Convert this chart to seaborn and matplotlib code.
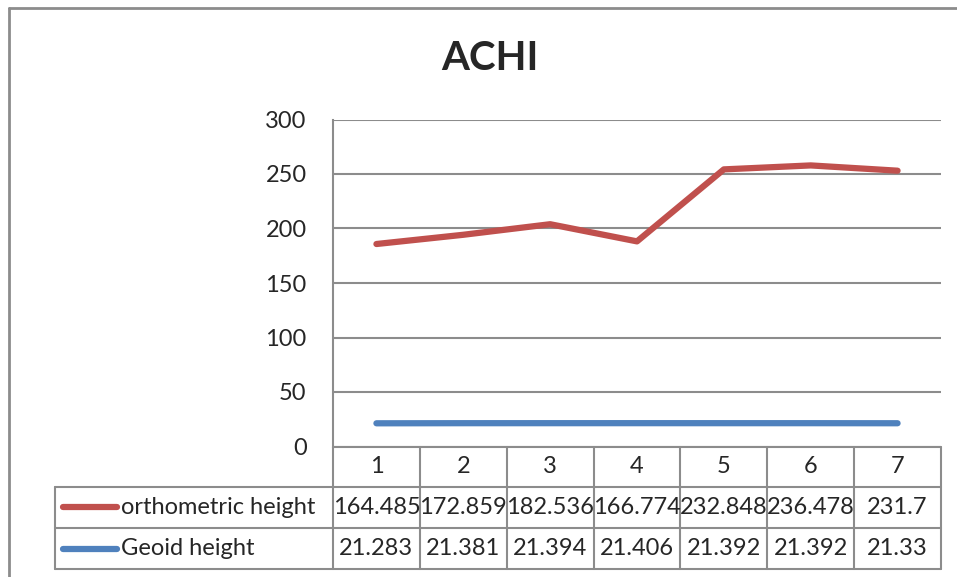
import numpy as np
import pandas as pd
import seaborn as sns
import matplotlib.pyplot as plt
from matplotlib.lines import Line2D

# Dati (grafico a linee impilate: la linea rossa = orto + geoide)
points = [1, 2, 3, 4, 5, 6, 7]
ortho = [164.485, 172.859, 182.536, 166.774, 232.848, 236.478, 231.7]
geoid = [21.283, 21.381, 21.394, 21.406, 21.392, 21.392, 21.33]
ortho_labels = ["164.485", "172.859", "182.536", "166.774", "232.848", "236.478", "231.7"]
geoid_labels = ["21.283", "21.381", "21.394", "21.406", "21.392", "21.392", "21.33"]
series_names = ["orthometric height", "Geoid height"]
y_ticks = [0, 50, 100, 150, 200, 250, 300]

red = "#C0504D"
blue = "#4F81BD"
grid_col = "#8C8C8C"
fs = 17

sns.set_style("white")
plt.rcParams['font.family'] = ['Lato', 'DejaVu Sans']

W, H = 957, 577
fig = plt.figure(figsize=(W / 100, H / 100), dpi=100)
fig.patch.set_facecolor('white')

# area del grafico in pixel
left, right, top, bottom = 333, 941, 119.5, 446.5
ax = fig.add_axes([left / W, 1 - bottom / H, (right - left) / W, (bottom - top) / H])

df = pd.DataFrame({
    'point': points * 2,
    'value': list(np.array(ortho) + np.array(geoid)) + geoid,
    'series': [series_names[0]] * 7 + [series_names[1]] * 7,
})
sns.lineplot(data=df, x='point', y='value', hue='series',
             palette=[red, blue], linewidth=4.5, legend=False, ax=ax,
             solid_capstyle='round')

ax.set_xlim(0.5, 7.5)
ax.set_ylim(0, 300)
ax.set_yticks(y_ticks)
ax.set_yticklabels([str(t) for t in y_ticks], fontsize=fs)
ax.set_xticks([])
ax.set_xlabel('')
ax.set_ylabel('')
ax.tick_params(axis='y', length=0, pad=19)
ax.yaxis.grid(True, color=grid_col, linewidth=1.5)
for s in ['top', 'right', 'bottom']:
    ax.spines[s].set_visible(False)
ax.spines['left'].set_color(grid_col)
ax.spines['left'].set_linewidth(1.5)

# tabella dati sotto il grafico
def fx(px):
    return px / W

def fy(py):
    return 1 - py / H

row_y = [446.5, 486.5, 528, 569]
col_w = (right - left) / 7
tbl_left = 55
lw = 1.5
fig.add_artist(Line2D([fx(left), fx(right)], [fy(row_y[0])] * 2, color=grid_col, lw=lw))
for yy in row_y[1:]:
    fig.add_artist(Line2D([fx(tbl_left), fx(right)], [fy(yy)] * 2, color=grid_col, lw=lw))
fig.add_artist(Line2D([fx(tbl_left)] * 2, [fy(row_y[1]), fy(row_y[3])], color=grid_col, lw=lw))
for i in range(8):
    xx = left + i * col_w
    fig.add_artist(Line2D([fx(xx)] * 2, [fy(row_y[0]), fy(row_y[3])], color=grid_col, lw=lw))

for i, p in enumerate(points):
    cx = left + (i + 0.5) * col_w
    fig.text(fx(cx), fy((row_y[0] + row_y[1]) / 2), str(p), ha='center', va='center', fontsize=fs)
    fig.text(fx(cx), fy((row_y[1] + row_y[2]) / 2), ortho_labels[i], ha='center', va='center', fontsize=fs)
    fig.text(fx(cx), fy((row_y[2] + row_y[3]) / 2), geoid_labels[i], ha='center', va='center', fontsize=fs)

for j, (name, col) in enumerate(zip(series_names, [red, blue])):
    cy = (row_y[1 + j] + row_y[2 + j]) / 2
    fig.add_artist(Line2D([fx(63), fx(117)], [fy(cy)] * 2, color=col, lw=4.5, solid_capstyle='round'))
    fig.text(fx(121), fy(cy), name, ha='left', va='center', fontsize=fs)

# cornice del grafico
fig.add_artist(Line2D([fx(9), fx(9)], [fy(8), 0], color=grid_col, lw=2))
fig.add_artist(Line2D([fx(9), 1], [fy(8), fy(8)], color=grid_col, lw=2))

fig.text(fx(490), fy(58), 'ACHI', ha='center', va='center', fontsize=29, fontweight='bold')

plt.savefig('out.png', dpi=100)
